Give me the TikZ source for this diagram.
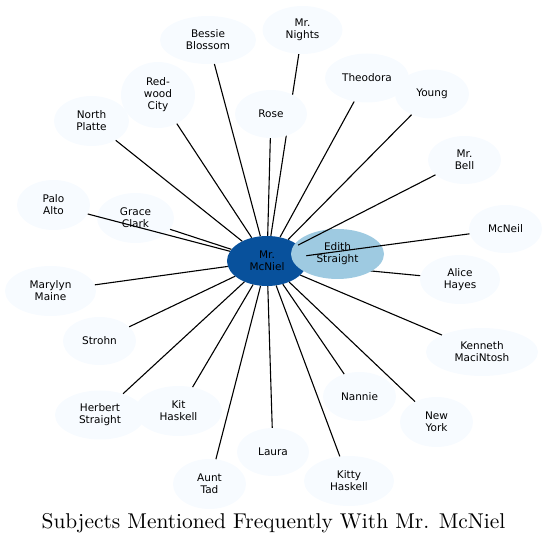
\documentclass[tikz,border=0pt]{standalone}
\usepackage{fontspec}
\setmainfont{Latin Modern Roman}
\newfontfamily\labfont{DejaVu Sans}
\newfontfamily\titlefont{lmroman10-regular}[Extension=.otf]
\usetikzlibrary{shapes.geometric,backgrounds}
\definecolor{centerblue}{HTML}{08519C}
\definecolor{edithblue}{HTML}{9ECAE1}
\definecolor{outerfill}{HTML}{F7FBFF}
\tikzset{
  bubble/.style={ellipse, draw=none, inner sep=0pt, align=center,
    font=\labfont\fontsize{10.5}{12}\selectfont, text=black},
  outer/.style={bubble, fill=outerfill},
  link/.style={draw=black, line width=1.1pt},
  sz/.style n args={2}{minimum width=#1pt, minimum height=#2pt},
}
\begin{document}
\begin{tikzpicture}[x=1pt,y=-1pt]
\useasboundingbox (0,0) rectangle (547,545);
% centre
\node[bubble, fill=centerblue, sz={80}{50}] (m) at (267,261) {Mr.\\McNiel};
\node[bubble, fill=edithblue, sz={93}{50}] (edith) at (337.5,254) {Edith\\Straight};
% outer nodes
\node[outer, sz={96}{48}] (bessie) at (208,40) {Bessie\\Blossom};
\node[outer, sz={80}{48}] (nights) at (302.5,30) {Mr.\\Nights};
\node[outer, sz={74}{66}] (redwood) at (158,95) {Red-\\wood\\City};
\node[outer, sz={75}{50}] (north) at (91.5,121) {North\\Platte};
\node[outer, sz={72}{48}] (rose) at (271,114) {Rose};
\node[outer, sz={84}{49}] (theodora) at (367,78) {Theodora};
\node[outer, sz={74}{49}] (young) at (432,94) {Young};
\node[outer, sz={73}{48}] (bell) at (464.5,160) {Mr.\\Bell};
\node[outer, sz={73}{50}] (palo) at (53.5,205) {Palo\\Alto};
\node[outer, sz={77}{50}] (grace) at (135.5,218) {Grace\\Clark};
\node[outer, sz={91}{50}] (marylyn) at (50.5,291) {Marylyn\\Maine};
\node[outer, sz={73}{48}] (strohn) at (99.5,341) {Strohn};
\node[outer, sz={73}{48}] (mcneil) at (505.5,229) {McNeil};
\node[outer, sz={80}{49}] (alice) at (460,279.5) {Alice\\Hayes};
\node[outer, sz={112}{48}] (kenneth) at (482,352) {Kenneth\\MaciNtosh};
\node[outer, sz={90}{49}] (herbert) at (100,415) {Herbert\\Straight};
\node[outer, sz={87}{50}] (kit) at (178.5,411) {Kit\\Haskell};
\node[outer, sz={73}{50}] (aunt) at (209.5,484) {Aunt\\Tad};
\node[outer, sz={72}{48}] (laura) at (273,452) {Laura};
\node[outer, sz={73}{49}] (nannie) at (359.5,396.5) {Nannie};
\node[outer, sz={73}{50}] (newyork) at (436.5,422) {New\\York};
\node[outer, sz={90}{50}] (kitty) at (349,481) {Kitty\\Haskell};
% edges hidden beneath nodes
\begin{pgfonlayer}{background}
\draw[link] (m) -- (nights);
\draw[link] (m) -- (alice);
\draw[link] (m) -- (edith);
\end{pgfonlayer}
% edges
\foreach \t in {bessie,redwood,north,rose,theodora,young,bell,palo,grace,
  marylyn,strohn,mcneil,kenneth,herbert,kit,aunt,laura,nannie,newyork,kitty}
  {\draw[link] (m) -- (\t);}
% title
\node[anchor=base, inner sep=0pt, font=\titlefont\fontsize{21.4}{24}\selectfont] (title) at (273.5,528.5)
  {Subjects Mentioned Frequently With Mr. McNiel};
\end{tikzpicture}
\end{document}
